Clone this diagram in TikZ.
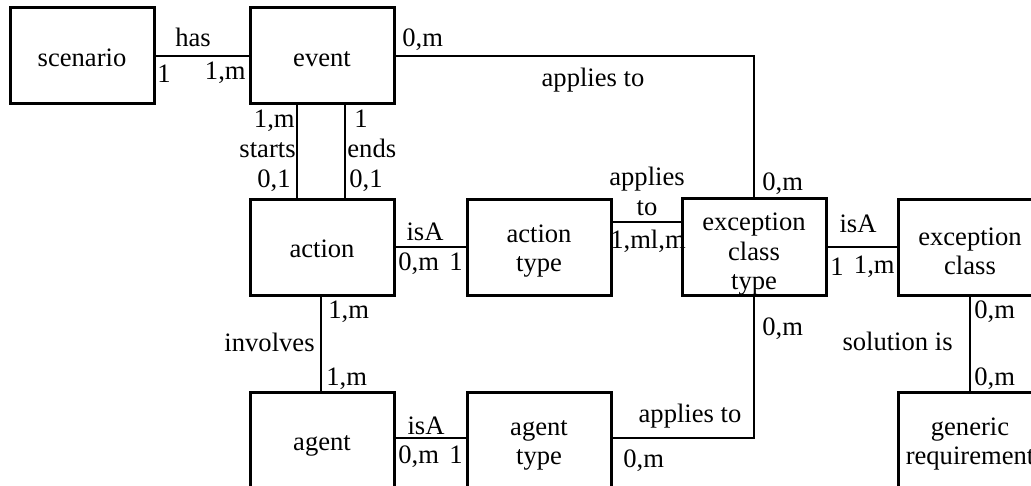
\documentclass[tikz,border=0pt]{standalone}
\usepackage{fontspec}
\setmainfont{Liberation Serif}
\usetikzlibrary{calc}
\newcommand{\uprule}{\rule{0pt}{16pt}}
\newcommand{\uprulee}{\rule{0pt}{13pt}}
\begin{document}
\begin{tikzpicture}[x=0.5pt,y=-0.5pt,
  every node/.style={font=\fontsize{13.3pt}{14.6pt}\selectfont},
  ebox/.style={draw,line width=1.5pt,minimum width=72pt,minimum height=48pt,inner sep=0pt,align=center},
  mbox/.style={ebox},
  sbox/.style={ebox,text height=13.5pt,text depth=2.6pt},
  conn/.style={line width=1.4pt},
  lbl/.style={inner sep=0pt,anchor=base},
  lblw/.style={inner sep=0pt,anchor=base west},
  lble/.style={inner sep=0pt,anchor=base east}]
\useasboundingbox (0,0) rectangle (1031,486);
\clip (0,0) rectangle (1031,486);
% boxes
\node[sbox] (scenario) at (82,56) {scenario};
\node[sbox] (event) at (322,56) {event};
\node[sbox] (action) at (322,247) {action};
\node[mbox] (actiontype) at (539,247) {\uprulee action\\type};
\node[mbox] (ect) at (754,247) {\uprule exception\\class\\type};
\node[mbox] (exclass) at (970,247) {\uprulee exception\\class};
\node[sbox] (agent) at (322,440) {agent};
\node[mbox] (agenttype) at (539,440) {\uprulee agent\\type};
\node[mbox] (genreq) at (970,440) {\uprulee generic\\requirement};
% connectors
\draw[conn] (scenario.east) -- (event.west);
\draw[conn] ($(event.south)+(-25,0)$) -- ($(action.north)+(-25,0)$);
\draw[conn] ($(event.south)+(23,0)$) -- ($(action.north)+(23,0)$);
\draw[conn] (event.east) -| (ect.north);
\draw[conn] (action.east) -- (actiontype.west);
\draw[conn] ($(actiontype.east)+(0,-25)$) -- ($(ect.west)+(0,-25)$);
\draw[conn] (ect.east) -- (exclass.west);
\draw[conn] (exclass.south) -- (genreq.north);
\draw[conn] ($(action.south)+(-1,0)$) -- ($(agent.north)+(-1,0)$);
\draw[conn] ($(agent.east)+(0,-2)$) -- ($(agenttype.west)+(0,-2)$);
\draw[conn] ($(agenttype.east)+(0,-2)$) -| (ect.south);
% labels
\node[lbl] (l1) at (193,47) {has};
\node[lbl] (l2) at (164,83) {1};
\node[lble] (l3) at (246,80) {1,m};
\node[lblw] (l4) at (402,47) {0,m};
\node[lbl] (l5) at (593,87) {applies to};
\node[lblw] (l6) at (762,191) {0,m};
\node[lble] (l7) at (295,128) {1,m};
\node[lble] (l8) at (296,158) {starts};
\node[lble] (l9) at (291,188) {0,1};
\node[lbl] (l10) at (361,128) {1};
\node[lblw] (l11) at (347,158) {ends};
\node[lblw] (l12) at (349,188) {0,1};
\node[lbl] (l13) at (425,240) {isA};
\node[lblw] (l14) at (398,270) {0,m};
\node[lbl] (l15) at (456,270) {1};
\node[lbl] (l16) at (647,185) {applies};
\node[lbl] (l17) at (647,215) {to};
\node[lbl] (l18) at (648,248) {1,ml,m};
\node[lbl] (l19) at (858,232) {isA};
\node[lbl] (l20) at (837,275) {1};
\node[lble] (l21) at (895,273) {1,m};
\node[lblw] (l22) at (974,318) {0,m};
\node[lble] (l23) at (953,350) {solution is};
\node[lblw] (l24) at (974,385) {0,m};
\node[lblw] (l25) at (762,335) {0,m};
\node[lblw] (l26) at (328,318) {1,m};
\node[lble] (l27) at (315,351) {involves};
\node[lblw] (l28) at (326,385) {1,m};
\node[lbl] (l29) at (426,434) {isA};
\node[lblw] (l30) at (398,463) {0,m};
\node[lbl] (l31) at (456,463) {1};
\node[lbl] (l32) at (690,422) {applies to};
\node[lblw] (l33) at (623,467) {0,m};
\end{tikzpicture}
\end{document}
